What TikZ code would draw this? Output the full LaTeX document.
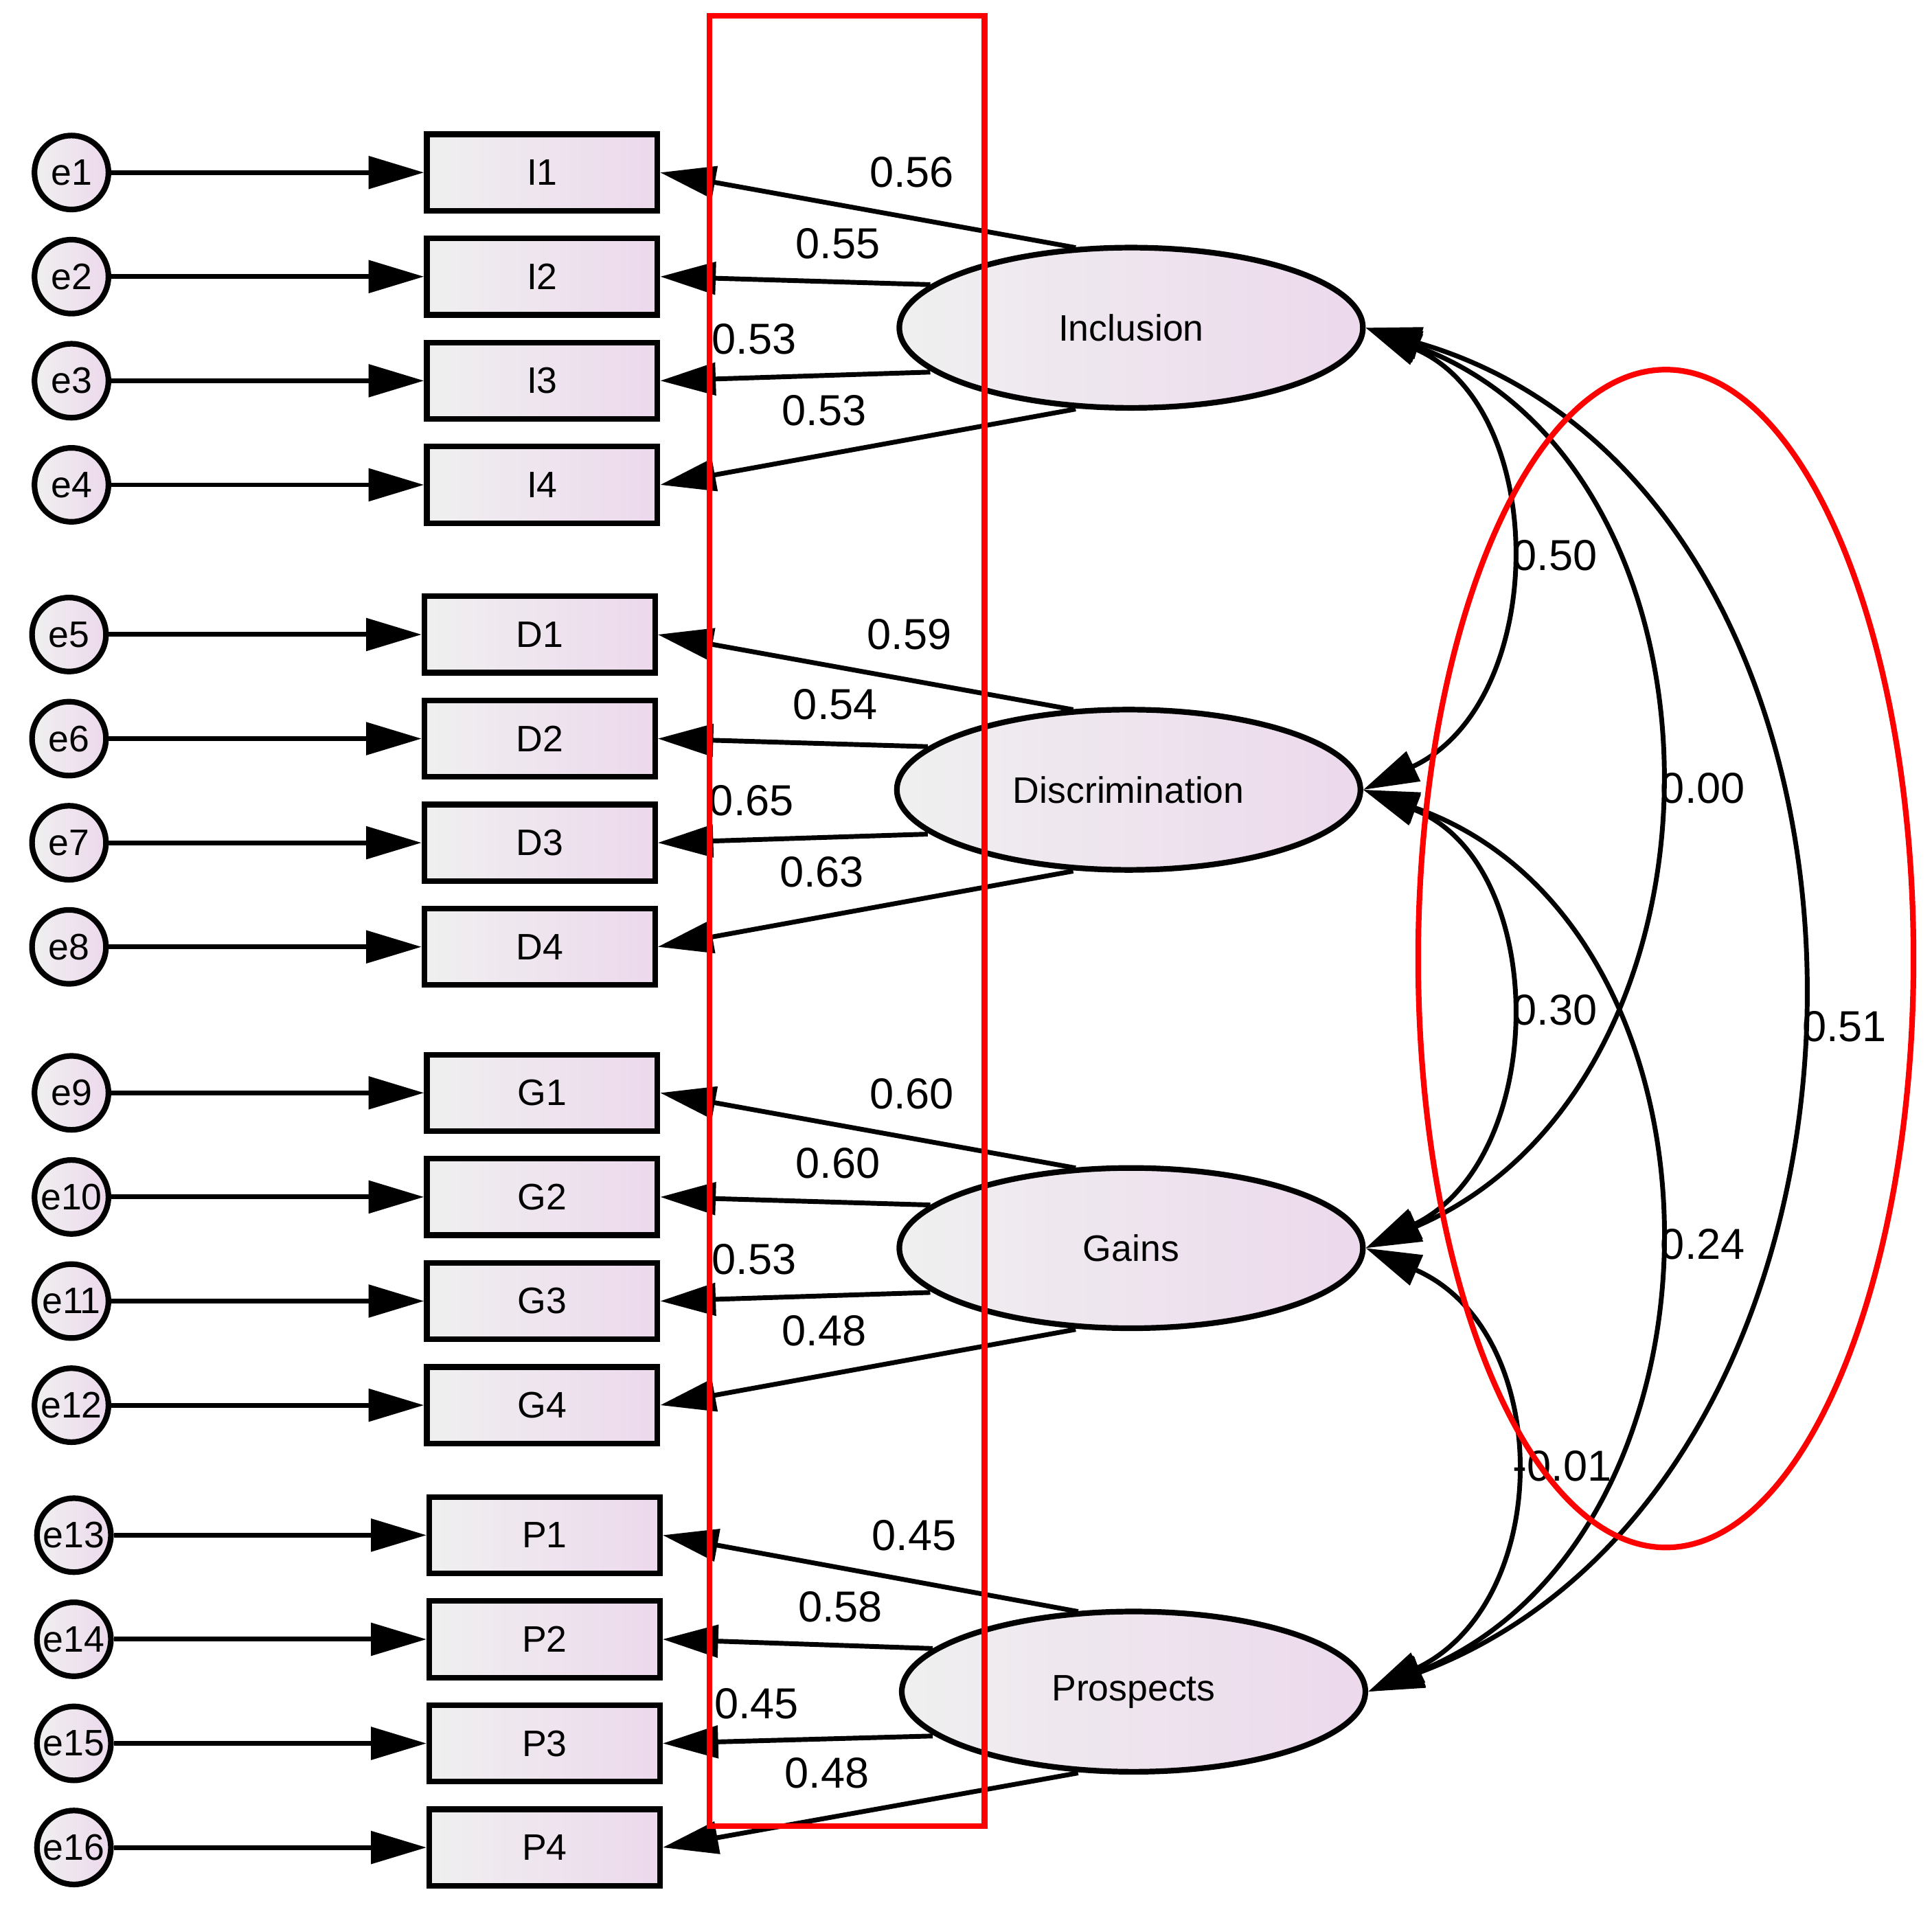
\documentclass[tikz,border=0pt]{standalone}
\usepackage{fontspec}
\setmainfont{Liberation Sans}
\usetikzlibrary{arrows.meta,shapes.geometric,calc}
\begin{document}
\begin{tikzpicture}[x=0.01cm,y=-0.01cm,
 tip/.style={-{Triangle[length=0.45cm,width=0.26cm]}},
 dtip/.style={{Triangle[length=0.45cm,width=0.26cm]}-{Triangle[length=0.45cm,width=0.26cm]}},
 err/.style={circle,draw,line width=1.3pt,minimum size=0.6cm,inner sep=0,left color=gray!12,right color=violet!15,font=\fontsize{8.5}{9}\selectfont},
 obs/.style={rectangle,draw,line width=1.3pt,minimum width=1.87cm,minimum height=0.62cm,left color=gray!12,right color=violet!15,font=\fontsize{8.5}{9}\selectfont},
 lat/.style={ellipse,draw,line width=1.3pt,minimum width=3.76cm,minimum height=1.3cm,left color=gray!12,right color=violet!15,font=\fontsize{8.5}{9}\selectfont},
 lab/.style={font=\fontsize{10}{11}\selectfont},
 every path/.style={line width=1.1pt}]
\useasboundingbox (0,0) rectangle (1568,1562);
% latent
\node[lat] (L1) at (918,266) {Inclusion};
\node[lat] (L2) at (916,641) {Discrimination};
\node[lat] (L3) at (918,1013) {Gains};
\node[lat] (L4) at (920,1373) {Prospects};
\foreach \g/\yy/\xe/\xb/\pre in {0/140/58/440/I, 1/515/56/438/D, 2/887/58/440/G, 3/1246/60/442/P}{
 \foreach \k in {1,...,4}{
  \pgfmathtruncatemacro\n{\g*4+\k}
  \pgfmathsetmacro\y{\yy+(\k-1)*84.5}
  \node[err] (e\n) at (\xe,\y) {e\n};
  \node[obs] (o\n) at (\xb,\y) {\pre\k};
  \draw[tip] (e\n) -- (o\n);
 }
}
% loadings
\foreach \L/\a/\b/\c/\d in {L1/1/2/3/4, L2/5/6/7/8, L3/9/10/11/12, L4/13/14/15/16}{
 \draw[tip] ($(\L.center)+(-45,-65)$) -- (o\a.east);
 \draw[tip] ($(\L.center)+(-163,-35)$) -- (o\b.east);
 \draw[tip] ($(\L.center)+(-163,36)$) -- (o\c.east);
 \draw[tip] ($(\L.center)+(-45,66)$) -- (o\d.east);
}
\foreach \x/\y/\t in {740/140/0.56,680/198/0.55,612/275/0.53,669/333/0.53,
 738/515/0.59,678/572/0.54,610/650/0.65,667/708/0.63,
 740/888/0.60,680/944/0.60,612/1022/0.53,669/1080/0.48,
 742/1246/0.45,682/1304/0.58,614/1383/0.45,671/1439/0.48}
 \node[lab] at (\x,\y) {\t};
% covariances
\draw[dtip] (L1.east) .. controls (1258,330) and (1258,570) .. (L2.east);
\draw[dtip] (L1.east) .. controls (1418,380) and (1418,880) .. (L3.east);
\draw[dtip] (L1.east) .. controls (1572,400) and (1572,1200) .. (L4.east);
\draw[dtip] (L2.east) .. controls (1258,700) and (1258,940) .. (L3.east);
\draw[dtip] (L2.east) .. controls (1418,750) and (1418,1250) .. (L4.east);
\draw[dtip] (L3.east) .. controls (1262,1080) and (1262,1300) .. (L4.east);
\node[lab] at (1262,451) {0.50};
\node[lab] at (1382,640) {0.00};
\node[lab] at (1497,833) {0.51};
\node[lab] at (1262,820) {0.30};
\node[lab] at (1382,1010) {0.24};
\node[lab] at (1268,1190) {-0.01};
% red highlights
\draw[red,line width=1.3pt] (576,13) rectangle (799,1482);
\draw[red,line width=1.3pt] (1352,778) ellipse [x radius=201,y radius=478];
\end{tikzpicture}
\end{document}
